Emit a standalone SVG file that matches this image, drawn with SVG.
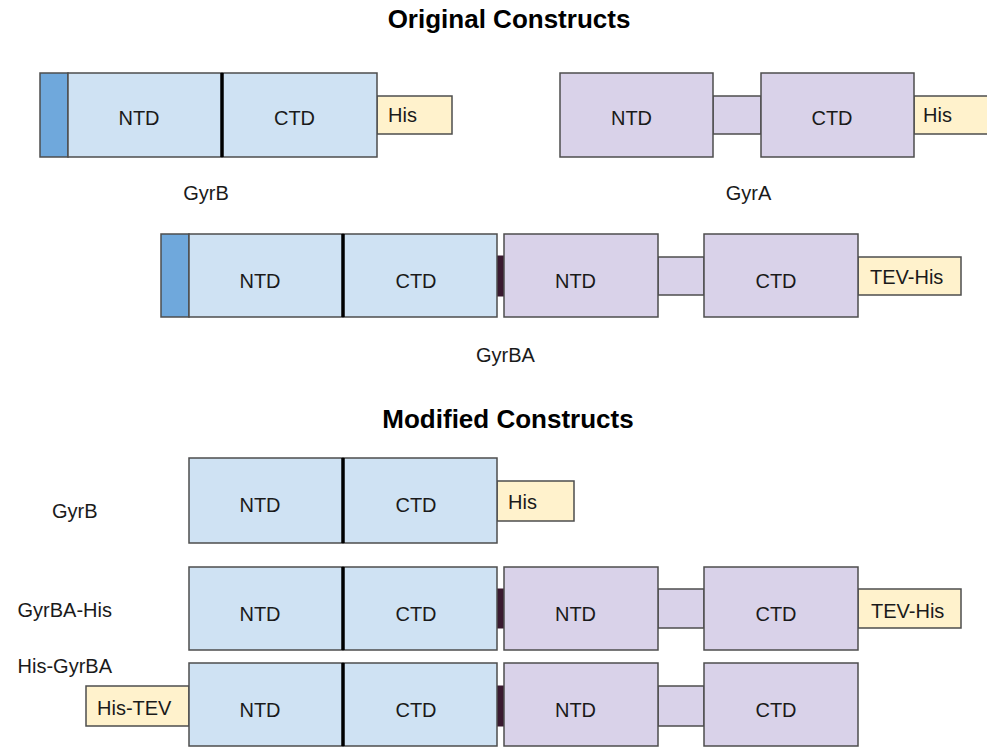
<svg xmlns="http://www.w3.org/2000/svg" width="987" height="749" viewBox="0 0 987 749">
<style>
text{font-family:"Liberation Sans",Arial,sans-serif;font-size:20px;fill:#1a1a1a}
.t{font-weight:bold;font-size:26px;text-anchor:middle;fill:#000}
.c{text-anchor:middle}
.e{text-anchor:end}
.b{fill:#cfe2f3;stroke:#4d4d4d;stroke-width:1.5}
.db{fill:#6fa8dc;stroke:#4d4d4d;stroke-width:1.5}
.p{fill:#d9d2e9;stroke:#4d4d4d;stroke-width:1.5}
.h{fill:#fff2cc;stroke:#4d4d4d;stroke-width:1.5}
.k{fill:#3a1a30;stroke:#3a1a30;stroke-width:1}
.sep{stroke:#000;stroke-width:3.5}
</style>
<rect width="987" height="749" fill="#fff"/>
<text class="t" x="509" y="28">Original Constructs</text>
<text class="t" x="508" y="428">Modified Constructs</text>

<g id="orig-gyrb">
<rect class="h" x="377" y="96" width="75" height="38"/>
<rect class="db" x="40" y="73" width="28" height="84"/>
<rect class="b" x="68" y="73" width="154" height="84"/>
<rect class="b" x="222" y="73" width="155" height="84"/>
<line class="sep" x1="222" y1="73" x2="222" y2="157"/>
<text class="c" x="139" y="125">NTD</text>
<text class="c" x="294.5" y="125">CTD</text>
<text x="388" y="122">His</text>
<text class="c" x="206" y="200">GyrB</text>
</g>

<g id="orig-gyra">
<rect class="p" x="713" y="96" width="48" height="38"/>
<rect class="h" x="914" y="96" width="90" height="38"/>
<rect class="p" x="560" y="73" width="153" height="84"/>
<rect class="p" x="761" y="73" width="153" height="84"/>
<text class="c" x="631.5" y="125">NTD</text>
<text class="c" x="832" y="125">CTD</text>
<text x="923" y="122">His</text>
<text class="c" x="748.5" y="200">GyrA</text>
</g>

<g id="orig-gyrba">
<rect class="k" x="497" y="256" width="7" height="40"/>
<rect class="p" x="658" y="257" width="46" height="38"/>
<rect class="h" x="858" y="257" width="103" height="38"/>
<rect class="db" x="161" y="234" width="28" height="83"/>
<rect class="b" x="189" y="234" width="154" height="83"/>
<rect class="b" x="343" y="234" width="154" height="83"/>
<line class="sep" x1="343" y1="234" x2="343" y2="317"/>
<rect class="p" x="504" y="234" width="154" height="83"/>
<rect class="p" x="704" y="234" width="154" height="83"/>
<text class="c" x="260" y="288">NTD</text>
<text class="c" x="416" y="288">CTD</text>
<text class="c" x="575.5" y="288">NTD</text>
<text class="c" x="776" y="288">CTD</text>
<text x="870" y="284">TEV-His</text>
<text class="c" x="505.5" y="362">GyrBA</text>
</g>

<g id="mod-gyrb">
<rect class="h" x="497" y="481" width="77" height="40"/>
<rect class="b" x="189" y="458" width="154" height="85"/>
<rect class="b" x="343" y="458" width="154" height="85"/>
<line class="sep" x1="343" y1="458" x2="343" y2="543"/>
<text class="c" x="260" y="512">NTD</text>
<text class="c" x="416" y="512">CTD</text>
<text x="508" y="509">His</text>
<text x="52" y="518">GyrB</text>
</g>

<g id="mod-gyrba-his">
<rect class="k" x="497" y="589" width="7" height="39"/>
<rect class="p" x="658" y="589" width="46" height="39"/>
<rect class="h" x="858" y="589" width="103" height="39"/>
<rect class="b" x="189" y="567" width="154" height="83"/>
<rect class="b" x="343" y="567" width="154" height="83"/>
<line class="sep" x1="343" y1="567" x2="343" y2="650"/>
<rect class="p" x="504" y="567" width="154" height="83"/>
<rect class="p" x="704" y="567" width="154" height="83"/>
<text class="c" x="260" y="621">NTD</text>
<text class="c" x="416" y="621">CTD</text>
<text class="c" x="575.5" y="621">NTD</text>
<text class="c" x="776" y="621">CTD</text>
<text x="871" y="618">TEV-His</text>
<text class="e" x="112" y="617">GyrBA-His</text>
</g>

<g id="mod-his-gyrba">
<rect class="h" x="86" y="686" width="103" height="40"/>
<rect class="k" x="497" y="686" width="7" height="40"/>
<rect class="p" x="658" y="686" width="46" height="40"/>
<rect class="b" x="189" y="663" width="154" height="83"/>
<rect class="b" x="343" y="663" width="154" height="83"/>
<line class="sep" x1="343" y1="663" x2="343" y2="746"/>
<rect class="p" x="504" y="663" width="154" height="83"/>
<rect class="p" x="704" y="663" width="154" height="83"/>
<text x="97" y="715">His-TEV</text>
<text class="c" x="260" y="717">NTD</text>
<text class="c" x="416" y="717">CTD</text>
<text class="c" x="575.5" y="717">NTD</text>
<text class="c" x="776" y="717">CTD</text>
<text class="e" x="112" y="673">His-GyrBA</text>
</g>

<g id="connectors"></g>
</svg>
